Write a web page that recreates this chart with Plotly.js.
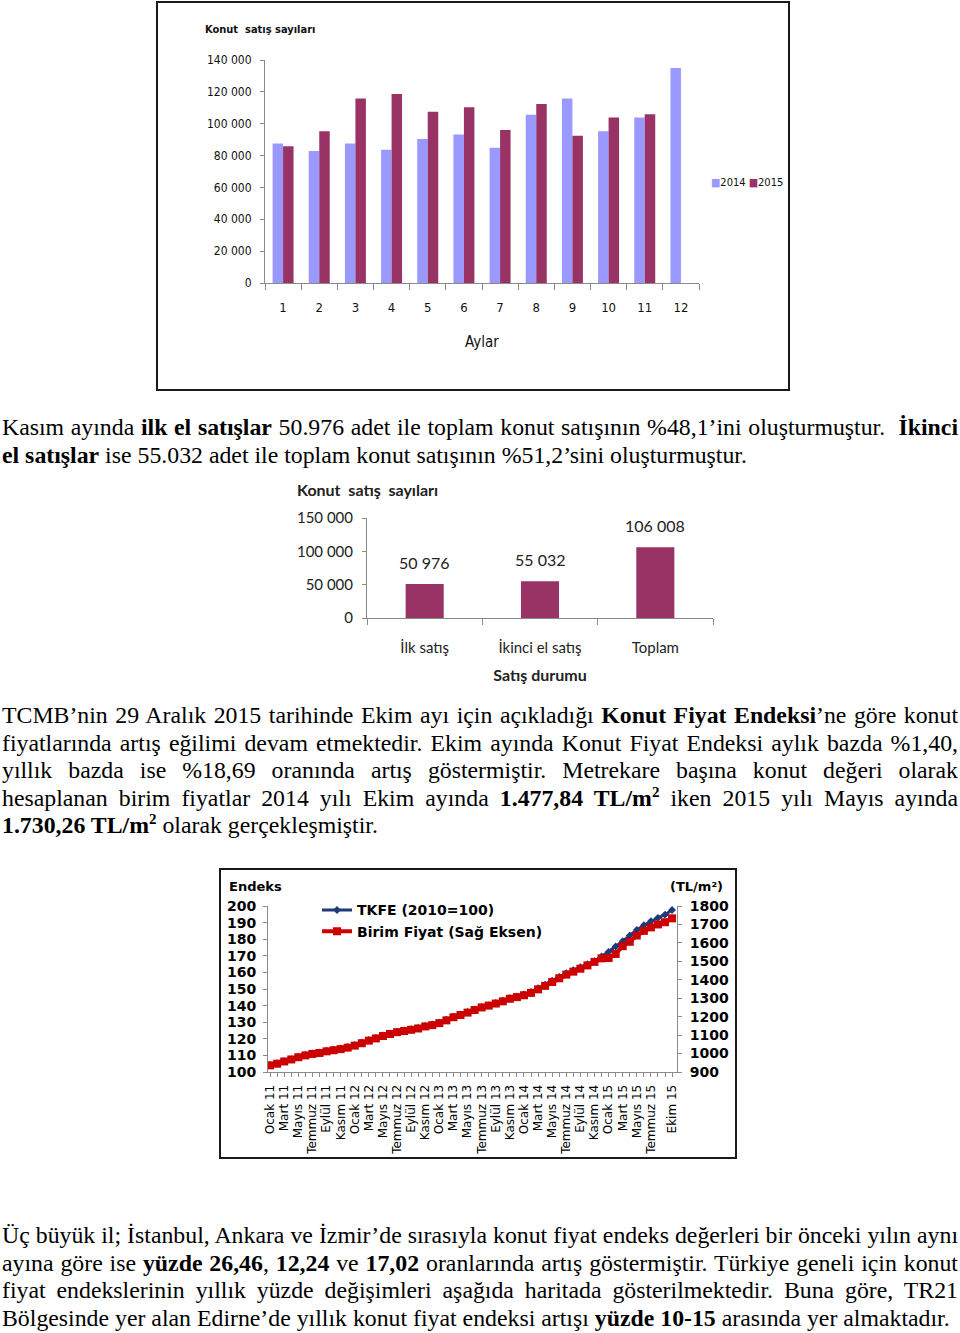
<!DOCTYPE html>
<html><head><meta charset="utf-8">
<script src="https://cdn.plot.ly/plotly-3.0.1.min.js"></script>
<style>
html,body{margin:0;padding:0;background:#fff;}
body{width:960px;height:1333px;position:relative;overflow:hidden;}
.frame{position:absolute;box-sizing:border-box;border:2px solid #1a1a1a;pointer-events:none;}
.chart{position:absolute;}
.para{position:absolute;left:2px;width:956px;font-family:"Liberation Serif","Times New Roman",serif;font-size:23.8px;line-height:27.5px;color:#000;}
.para div{text-align:justify;text-align-last:justify;white-space:normal;}
.para div.last{text-align-last:left;}
.para sup{font-size:15px;line-height:0;vertical-align:9px;}
</style>
</head><body>

<div class="chart" id="c1" style="left:157px;top:2px;width:633px;height:389px;"></div>
<div class="frame" style="left:156px;top:1px;width:634px;height:390px;"></div>

<div class="para" style="top:414px;">
<div>Kasım ayında <b>ilk el satışlar</b> 50.976 adet ile toplam konut satışının %48,1’ini oluşturmuştur.&nbsp; <b>İkinci</b></div>
<div class="last"><b>el satışlar</b> ise 55.032 adet ile toplam konut satışının %51,2’sini oluşturmuştur.</div>
</div>

<div class="chart" id="c2" style="left:280px;top:475px;width:440px;height:215px;"></div>

<div class="para" style="top:702px;">
<div>TCMB’nin 29 Aralık 2015 tarihinde Ekim ayı için açıkladığı <b>Konut Fiyat Endeksi</b>’ne göre konut</div>
<div>fiyatlarında artış eğilimi devam etmektedir. Ekim ayında Konut Fiyat Endeksi aylık bazda %1,40,</div>
<div>yıllık bazda ise %18,69 oranında artış göstermiştir. Metrekare başına konut değeri olarak</div>
<div>hesaplanan birim fiyatlar 2014 yılı Ekim ayında <b>1.477,84 TL/m<sup>2</sup></b> iken 2015 yılı Mayıs ayında</div>
<div class="last"><b>1.730,26 TL/m<sup>2</sup></b> olarak gerçekleşmiştir.</div>
</div>

<div class="chart" id="c3" style="left:219px;top:868px;width:518px;height:291px;"></div>
<div class="frame" style="left:219px;top:868px;width:518px;height:291px;"></div>

<div class="para" style="top:1222px;">
<div>Üç büyük il; İstanbul, Ankara ve İzmir’de sırasıyla konut fiyat endeks değerleri bir önceki yılın aynı</div>
<div>ayına göre ise <b>yüzde 26,46</b>, <b>12,24</b> ve <b>17,02</b> oranlarında artış göstermiştir. Türkiye geneli için konut</div>
<div>fiyat endekslerinin yıllık yüzde değişimleri aşağıda haritada gösterilmektedir. Buna göre, TR21</div>
<div class="last">Bölgesinde yer alan Edirne’de yıllık konut fiyat endeksi artışı <b>yüzde 10-15</b> arasında yer almaktadır.</div>
</div>

<script>
// ---------- Chart 1 data ----------
const months = ['1','2','3','4','5','6','7','8','9','10','11','12'];
const sales2014 = [87600, 82800, 87600, 83600, 90400, 93300, 84900, 105600, 115900, 95200, 103900, 134900];
const sales2015 = [85900, 95200, 115900, 118700, 107500, 110400, 96100, 112300, 92500, 103900, 106008, null];
const seriesNames1 = ['2014', '2015'];

// ---------- Chart 2 data ----------
const saleTypes = ['İlk satış', 'İkinci el satış', 'Toplam'];
const saleCounts = [50976, 55032, 106008];

// ---------- Chart 3 data ----------
const monthLabels = [
 'Ocak 11','Şubat 11','Mart 11','Nisan 11','Mayıs 11','Haziran 11','Temmuz 11','Ağustos 11','Eylül 11','Ekim 11','Kasım 11','Aralık 11',
 'Ocak 12','Şubat 12','Mart 12','Nisan 12','Mayıs 12','Haziran 12','Temmuz 12','Ağustos 12','Eylül 12','Ekim 12','Kasım 12','Aralık 12',
 'Ocak 13','Şubat 13','Mart 13','Nisan 13','Mayıs 13','Haziran 13','Temmuz 13','Ağustos 13','Eylül 13','Ekim 13','Kasım 13','Aralık 13',
 'Ocak 14','Şubat 14','Mart 14','Nisan 14','Mayıs 14','Haziran 14','Temmuz 14','Ağustos 14','Eylül 14','Ekim 14','Kasım 14','Aralık 14',
 'Ocak 15','Şubat 15','Mart 15','Nisan 15','Mayıs 15','Haziran 15','Temmuz 15','Ağustos 15','Eylül 15','Ekim 15'
];
const shownTicks = [
 'Ocak 11','Mart 11','Mayıs 11','Temmuz 11','Eylül 11','Kasım 11',
 'Ocak 12','Mart 12','Mayıs 12','Temmuz 12','Eylül 12','Kasım 12',
 'Ocak 13','Mart 13','Mayıs 13','Temmuz 13','Eylül 13','Kasım 13',
 'Ocak 14','Mart 14','Mayıs 14','Temmuz 14','Eylül 14','Kasım 14',
 'Ocak 15','Mart 15','Mayıs 15','Temmuz 15','Ekim 15'
];
const tkfe = [
 104.3,105.3,106.6,107.8,109.2,110.3,111.2,111.8,112.8,113.5,114.2,115.1,
 116.3,117.8,119.3,120.6,122.0,123.2,124.3,125.0,125.8,126.6,127.8,128.6,
 129.8,131.6,133.4,134.7,136.2,137.7,139.2,140.3,141.6,143.0,144.6,145.6,
 146.8,148.3,150.5,152.6,155.0,157.3,159.6,161.4,163.1,164.9,166.8,169.6,
 172.4,175.6,178.8,182.3,185.6,188.4,190.8,192.9,194.8,197.6
];
const birimFiyat = [
 936,945,957,968,980,990,998,1003,1012,1018,1024,1032,
 1043,1056,1070,1082,1095,1106,1116,1122,1129,1136,1147,1154,
 1165,1180,1197,1209,1222,1236,1250,1260,1271,1283,1297,1306,
 1316,1329,1348,1367,1388,1408,1428,1444,1460,1477.84,1497,1516,
 1518,1540,1582,1606,1640,1665,1684,1700,1712,1733
];
const seriesNames3 = ['TKFE (2010=100)', 'Birim Fiyat (Sağ Eksen)'];

const F1 = '"DejaVu Sans Condensed","Liberation Sans Narrow",sans-serif';
const F2 = 'Lato,"DejaVu Sans Condensed",sans-serif';
const F3 = '"DejaVu Sans",Verdana,sans-serif';
const AX = '#8a8a8a';
const cfg = {displayModeBar:false, staticPlot:true};

// ---------- Chart 1 ----------
Plotly.newPlot('c1', [
  {type:'bar', name:seriesNames1[0], x:months, y:sales2014, marker:{color:'#9999FF'}},
  {type:'bar', name:seriesNames1[1], x:months, y:sales2015, marker:{color:'#993366'}}
], {
  width:633, height:389,
  margin:{l:108, r:91, t:58, b:108},
  paper_bgcolor:'rgba(0,0,0,0)', plot_bgcolor:'rgba(0,0,0,0)',
  barmode:'group', bargap:0.42, bargroupgap:0,
  separators:', ',
  showlegend:false,
  font:{family:F1, size:13, color:'#111'},
  title:{text:'Konut  satış sayıları', x:48/633, xanchor:'left', y:1-27/389, yanchor:'middle',
         font:{family:F1, size:11, color:'#111', weight:'bold'}},
  xaxis:{type:'category', showline:true, linecolor:AX, linewidth:1, ticks:'outside', ticklen:6, tickcolor:AX,
         tickson:'boundaries', ticklabelstandoff:12, tickfont:{size:13},
         title:{text:'Aylar', font:{size:15}, standoff:22}},
  yaxis:{range:[0,140000], dtick:20000, tickformat:',d', showline:true, linecolor:AX, linewidth:1,
         ticks:'outside', ticklen:4, tickcolor:AX, showgrid:false, zeroline:false, tickfont:{size:12},
         ticklabelstandoff:6},
  annotations:[{xref:'paper', yref:'paper', x:(708-265)/433, y:(281-181)/221, xanchor:'left', yanchor:'middle',
    showarrow:false, font:{family:F1, size:11, color:'#111'},
    text:'<span style="color:#9999FF">■</span>' + seriesNames1[0] + ' <span style="color:#993366">■</span>' + seriesNames1[1]}]
}, cfg);

// ---------- Chart 2 ----------
const fmt = v => String(v).replace(/\B(?=(\d{3})+(?!\d))/g, ' ');
Plotly.newPlot('c2', [
  {type:'bar', x:saleTypes, y:saleCounts, marker:{color:'#993366'}, name:'Konut satış sayıları'}
], {
  width:440, height:215,
  margin:{l:87, r:7, t:43, b:72},
  paper_bgcolor:'rgba(0,0,0,0)', plot_bgcolor:'rgba(0,0,0,0)',
  bargap:0.67, separators:', ', showlegend:false,
  font:{family:F2, size:15, color:'#222'},
  title:{text:'<b>Konut  satış  sayıları</b>', x:17/440, xanchor:'left', y:1-15/215, yanchor:'middle',
         font:{family:F2, size:16, color:'#222'}},
  xaxis:{type:'category', showline:true, linecolor:AX, ticks:'outside', ticklen:6, tickcolor:AX, tickson:'boundaries',
         ticklabelstandoff:16, tickfont:{size:15},
         title:{text:'<b>Satış durumu</b>', font:{size:16}, standoff:14}},
  yaxis:{range:[0,150000], dtick:50000, tickformat:',d', showline:true, linecolor:AX, ticks:'outside', ticklen:4,
         tickcolor:AX, showgrid:false, zeroline:false, tickfont:{size:15}, ticklabelstandoff:6},
  annotations: saleTypes.map((c,i)=>({x:c, y:saleCounts[i], text:fmt(saleCounts[i]), showarrow:false,
         yanchor:'bottom', yshift:10, font:{family:F2, size:16, color:'#222'}}))
}, cfg);

// ---------- Chart 3 ----------
const xIdx = monthLabels.map((_, i) => i);
const tickIdx = shownTicks.map(t => monthLabels.indexOf(t));
Plotly.newPlot('c3', [
  {type:'scatter', mode:'lines+markers', name:seriesNames3[0], x:xIdx, y:tkfe,
   line:{color:'#1F3A78', width:3}, marker:{symbol:'diamond', size:6, color:'#1F3A78'}},
  {type:'scatter', mode:'lines+markers', name:seriesNames3[1], x:xIdx, y:birimFiyat, yaxis:'y2',
   line:{color:'#CC0000', width:4}, marker:{symbol:'square', size:8, color:'#CC0000'}}
], {
  width:518, height:291,
  margin:{l:49, r:60, t:38, b:87},
  paper_bgcolor:'rgba(0,0,0,0)', plot_bgcolor:'rgba(0,0,0,0)',
  font:{family:F3, size:12, color:'#000'},
  showlegend:true,
  legend:{x:(317-268)/409, y:1.07, xanchor:'left', yanchor:'top', bgcolor:'rgba(0,0,0,0)',
          font:{family:F3, size:14, color:'#000', weight:'bold'}, itemwidth:30, tracegroupgap:0},
  xaxis:{range:[-0.3,57.7], tickvals:tickIdx, ticktext:shownTicks, tickangle:-90, showline:true, linecolor:AX,
         ticks:'outside', ticklen:4, tickcolor:AX, showgrid:false, zeroline:false, ticklabelstandoff:3,
         tickfont:{family:F3, size:12, color:'#000'},
         minor:{dtick:1, tick0:0, ticks:'outside', ticklen:4, tickcolor:AX, showgrid:false}},
  yaxis:{range:[100,200], dtick:10, showline:true, linecolor:AX, ticks:'outside', ticklen:4, tickcolor:AX,
         showgrid:false, zeroline:false, tickfont:{family:F3, size:14, color:'#000', weight:'bold'}, ticklabelstandoff:4},
  yaxis2:{range:[900,1800], dtick:100, overlaying:'y', side:'right', showline:true, linecolor:AX, ticks:'outside',
          ticklen:4, tickcolor:AX, showgrid:false, zeroline:false,
          tickfont:{family:F3, size:14, color:'#000', weight:'bold'}, ticklabelstandoff:5},
  annotations:[
    {xref:'paper', yref:'paper', x:(227-268)/409, y:(1071-885)/166, xanchor:'left', yanchor:'middle', showarrow:false,
     text:'<b>Endeks</b>', font:{family:F3, size:13, color:'#000'}},
    {xref:'paper', yref:'paper', x:(725-268)/409, y:(1071-885)/166, xanchor:'right', yanchor:'middle', showarrow:false,
     text:'<b>(TL/m²)</b>', font:{family:F3, size:13, color:'#000'}}
  ]
}, cfg);
</script>
</body></html>
